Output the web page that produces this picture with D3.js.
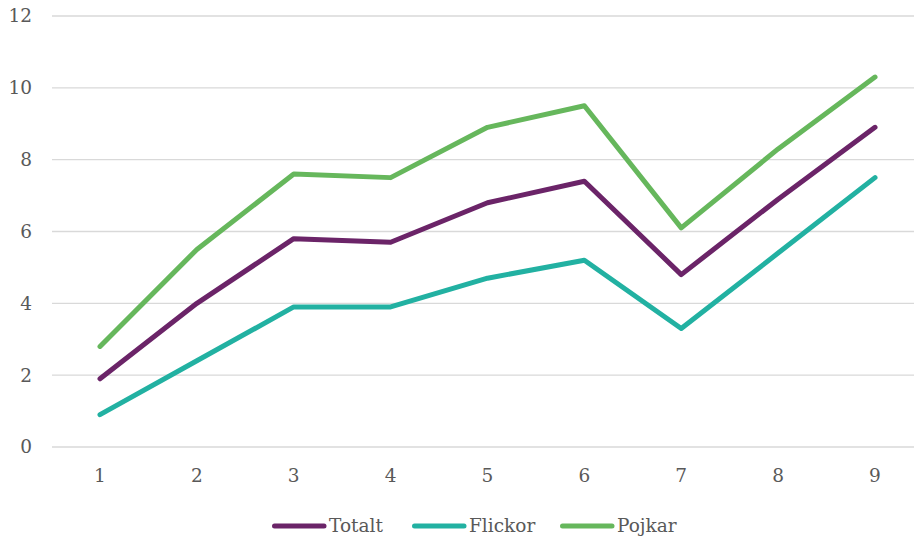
<!DOCTYPE html>
<html>
<head>
<meta charset="utf-8">
<script src="https://cdn.jsdelivr.net/npm/d3@7"></script>
<style>
  body { margin: 0; background: #fff; }
  svg text { fill: #595959; }
</style>
</head>
<body>
<svg width="914" height="538"></svg>
<script>
var categories = [1, 2, 3, 4, 5, 6, 7, 8, 9];
var totalt = [1.9, 4.0, 5.8, 5.7, 6.8, 7.4, 4.8, 6.9, 8.9];
var flickor = [0.9, 2.4, 3.9, 3.9, 4.7, 5.2, 3.3, 5.4, 7.5];
var pojkar = [2.8, 5.5, 7.6, 7.5, 8.9, 9.5, 6.1, 8.3, 10.3];
var yTicks = [0, 2, 4, 6, 8, 10, 12];

var series = [
  { name: "Totalt", values: totalt, color: "#6b2468" },
  { name: "Flickor", values: flickor, color: "#22b1a2" },
  { name: "Pojkar", values: pojkar, color: "#66b75c" }
];

// Liberation Serif is not available here, DejaVu Serif is the closest serif
var fontFam = "DejaVu Serif";
var fontSize = 18.5;

var svg = d3.select("svg");

var x = d3.scalePoint()
  .domain(categories)
  .range([100, 875]);

var y = d3.scaleLinear()
  .domain([0, 12])
  .range([447, 16]);

// grid
svg.append("g")
  .selectAll("line")
  .data(yTicks)
  .enter()
  .append("line")
  .attr("x1", 52)
  .attr("x2", 914)
  .attr("y1", function (d) { return y(d); })
  .attr("y2", function (d) { return y(d); })
  .attr("stroke", "#d9d9d9")
  .attr("stroke-width", 1.3);

// y labels
svg.append("g")
  .selectAll("text")
  .data(yTicks)
  .enter()
  .append("text")
  .attr("x", 32)
  .attr("y", function (d) { return y(d); })
  .attr("dy", "0.35em")
  .attr("text-anchor", "end")
  .attr("font-family", fontFam)
  .attr("font-size", fontSize)
  .text(function (d) { return d; });

// x labels
svg.append("g")
  .selectAll("text")
  .data(categories)
  .enter()
  .append("text")
  .attr("x", function (d) { return x(d); })
  .attr("y", 482)
  .attr("text-anchor", "middle")
  .attr("font-family", fontFam)
  .attr("font-size", fontSize)
  .text(function (d) { return d; });

var line = d3.line()
  .x(function (d, i) { return x(categories[i]); })
  .y(function (d) { return y(d); });

svg.append("g")
  .selectAll("path")
  .data(series)
  .enter()
  .append("path")
  .attr("fill", "none")
  .attr("stroke", function (d) { return d.color; })
  .attr("stroke-width", 5)
  .attr("stroke-linecap", "round")
  .attr("stroke-linejoin", "round")
  .attr("d", function (d) { return line(d.values); });

// legend
var legendX = [272, 412, 560];
var legend = svg.append("g")
  .selectAll("g")
  .data(series)
  .enter()
  .append("g")
  .attr("transform", function (d, i) { return "translate(" + legendX[i] + ",526)"; });

legend.append("line")
  .attr("x1", 2.5)
  .attr("x2", 52)
  .attr("stroke", function (d) { return d.color; })
  .attr("stroke-width", 5)
  .attr("stroke-linecap", "round");

legend.append("text")
  .attr("x", 57)
  .attr("dy", "0.35em")
  .attr("font-family", fontFam)
  .attr("font-size", fontSize)
  .text(function (d) { return d.name; });
</script>
</body>
</html>
